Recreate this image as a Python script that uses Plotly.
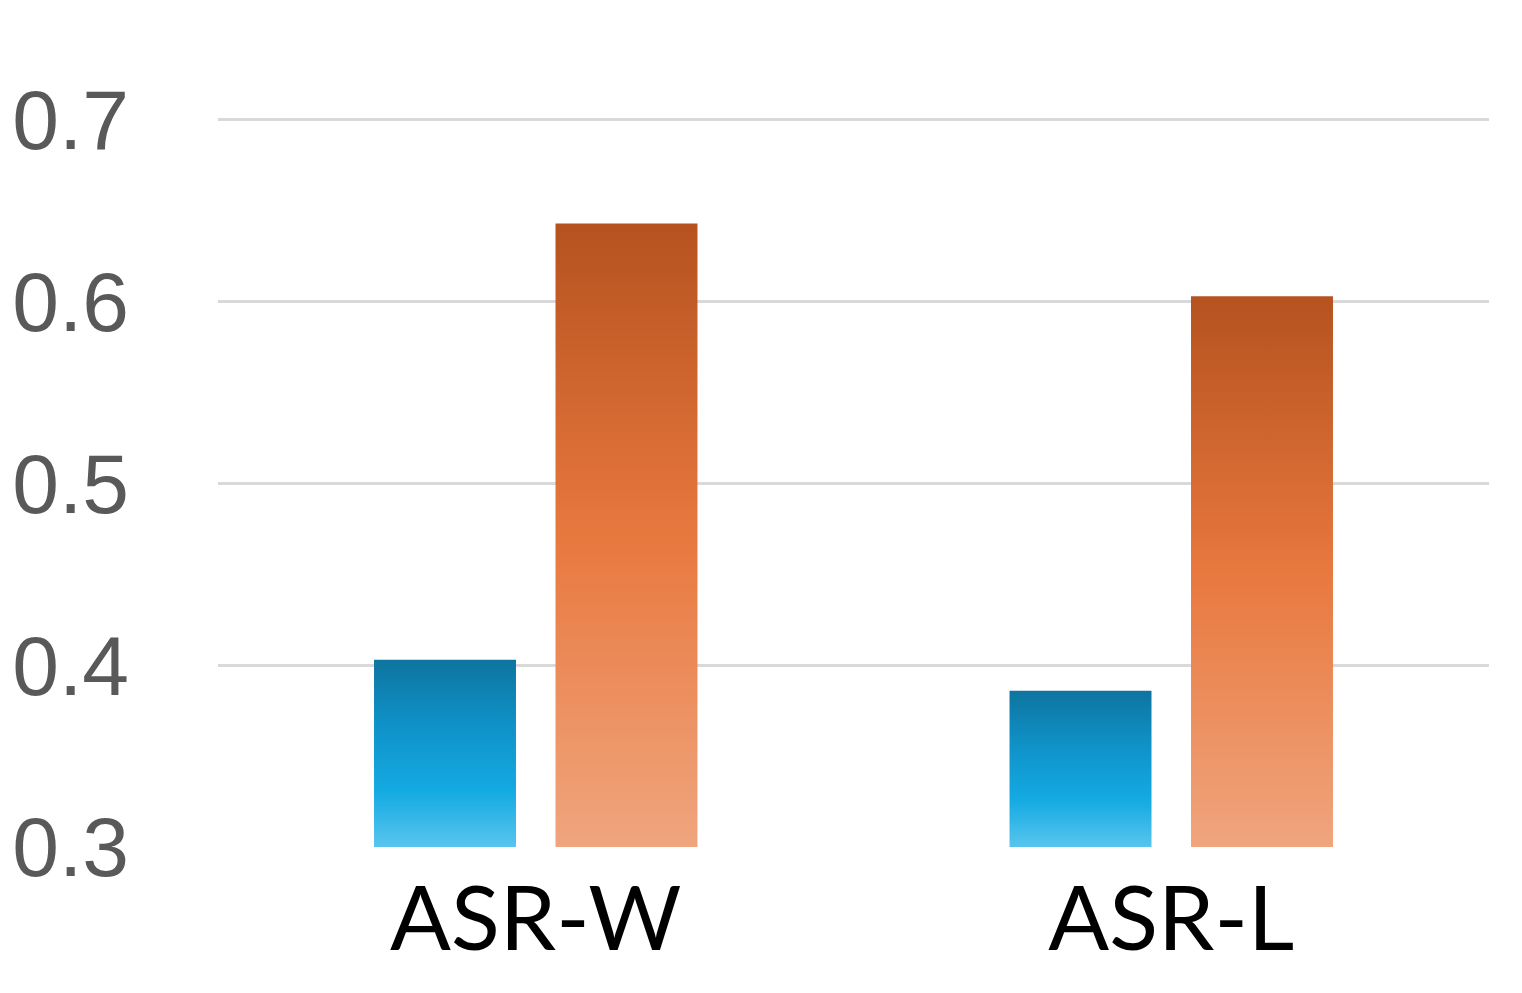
import plotly.graph_objects as go

categories = ["ASR-W", "ASR-L"]
blue_values = [0.403, 0.386]
orange_values = [0.643, 0.603]
y_ticks = [0.3, 0.4, 0.5, 0.6, 0.7]
y_tick_labels = ["0.3", "0.4", "0.5", "0.6", "0.7"]

base = 0.3
bar_width = 0.2234
offsets = [-0.1428, 0.1428]

blue_scale = [[0, "#58c5ee"], [0.3, "#14aae2"], [0.65, "#0f92c8"], [1, "#0e749f"]]
orange_scale = [[0, "#f0a57e"], [0.5, "#e8783e"], [1, "#b5521f"]]


def bar_shape(i, value, offset):
    # rectangle for one bar, built from the category index and value
    x0 = i + offset - bar_width / 2
    x1 = i + offset + bar_width / 2
    return [x0, x1, x1, x0, x0], [base, base, value, value, base]


fig = go.Figure()
for values, offset, scale in [(blue_values, offsets[0], blue_scale),
                              (orange_values, offsets[1], orange_scale)]:
    for i, v in enumerate(values):
        xs, ys = bar_shape(i, v, offset)
        fig.add_trace(go.Scatter(
            x=xs, y=ys, mode="none", fill="toself",
            fillgradient=dict(type="vertical", colorscale=scale),
            hoverinfo="skip", showlegend=False))

fig.update_layout(
    width=1522, height=993,
    margin=dict(l=210, r=41, t=12, b=154),
    plot_bgcolor="white", paper_bgcolor="white",
    showlegend=False,
    xaxis=dict(range=[-0.5, 1.5], tickvals=list(range(len(categories))),
               ticktext=categories, showgrid=False, zeroline=False,
               showline=False, ticks="", ticklabelstandoff=12, automargin=False,
               tickfont=dict(family="Lato, Noto Sans, sans-serif", size=90, color="black")),
    yaxis=dict(range=[base, 0.755], tickvals=y_ticks, ticktext=y_tick_labels,
               showgrid=True, gridcolor="#d9d9d9", gridwidth=3, zeroline=False,
               showline=False, ticks="", ticklabelstandoff=88, automargin=False,
               tickfont=dict(family="Liberation Sans, Arial, sans-serif", size=84, color="#595959")),
)

fig.write_html("out.html")
